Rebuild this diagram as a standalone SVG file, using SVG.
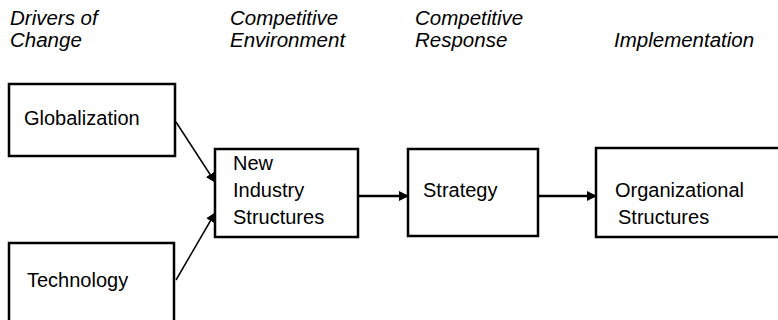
<svg xmlns="http://www.w3.org/2000/svg" width="778" height="320" viewBox="0 0 778 320">
<defs>
<style>
.box{fill:#fff;stroke:#000;stroke-width:2.5}
.t{font-family:"Liberation Sans",Arial,sans-serif;font-size:20px;fill:#000}
.h{font-family:"Liberation Sans",Arial,sans-serif;font-size:20.5px;font-style:italic;fill:#000}
.c{stroke:#000;stroke-width:2.5;fill:none}
.c1{stroke:#000;stroke-width:1.5;fill:none}
</style>
<marker id="ah" markerWidth="10" markerHeight="10" refX="9" refY="5" orient="auto" markerUnits="userSpaceOnUse">
<path d="M0,0 L10,5 L0,10 Z" fill="#000"/>
</marker>
</defs>
<g id="headers">
<text class="h" x="10" y="25">Drivers of</text>
<text class="h" x="10" y="47">Change</text>
<text class="h" x="230" y="25">Competitive</text>
<text class="h" x="230" y="47">Environment</text>
<text class="h" x="415" y="25">Competitive</text>
<text class="h" x="415" y="47">Response</text>
<text class="h" x="614" y="47">Implementation</text>
</g>
<g id="globalization">
<rect class="box" x="9" y="84" width="166" height="72"/>
<text class="t" x="24" y="125">Globalization</text>
</g>
<g id="technology">
<rect class="box" x="9" y="243" width="165" height="100"/>
<text class="t" x="27" y="287">Technology</text>
</g>
<g id="new-industry">
<rect class="box" x="215" y="149" width="143" height="88"/>
<text class="t" x="233" y="170">New</text>
<text class="t" x="233" y="197">Industry</text>
<text class="t" x="233" y="224">Structures</text>
</g>
<g id="strategy">
<rect class="box" x="408" y="149" width="130" height="87"/>
<text class="t" x="423" y="197">Strategy</text>
</g>
<g id="org">
<rect class="box" x="596" y="148" width="200" height="89"/>
<text class="t" x="615" y="197">Organizational</text>
<text class="t" x="618" y="224">Structures</text>
</g>
<g id="connectors">
<line class="c1" x1="176" y1="122" x2="215" y2="182" marker-end="url(#ah)"/>
<line class="c1" x1="176" y1="280" x2="215" y2="213" marker-end="url(#ah)"/>
<line class="c" x1="358" y1="196" x2="408" y2="196" marker-end="url(#ah)"/>
<line class="c" x1="538" y1="196" x2="596" y2="196" marker-end="url(#ah)"/>
</g>
</svg>
